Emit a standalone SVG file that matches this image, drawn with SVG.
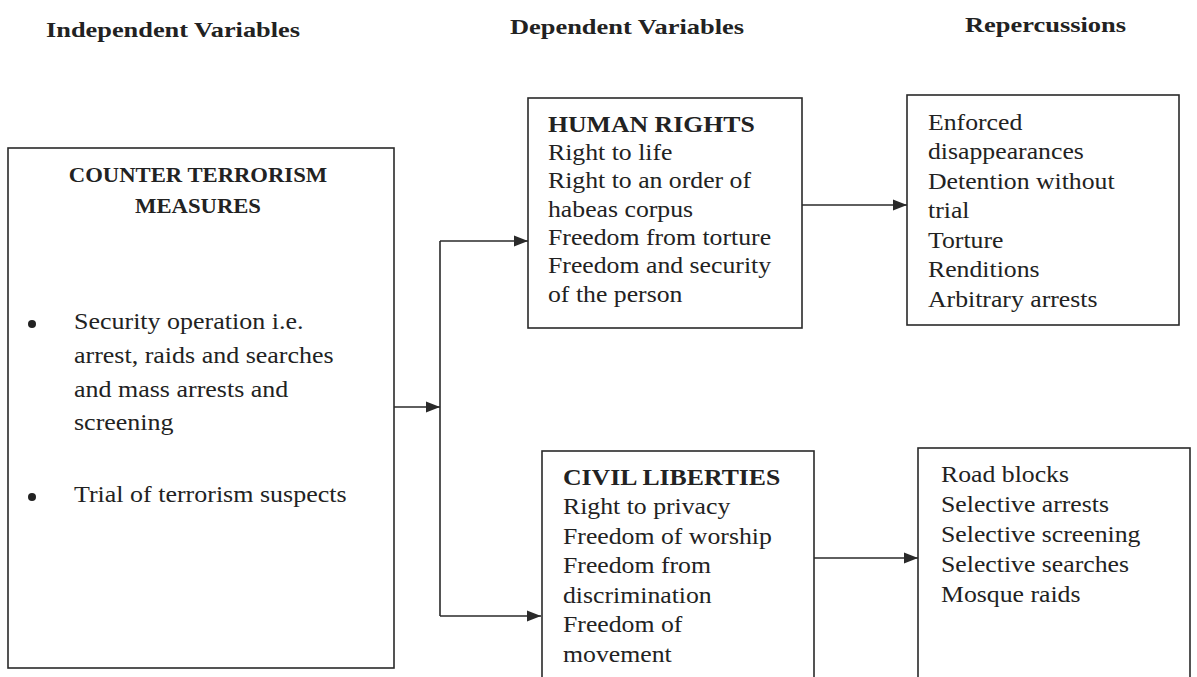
<svg xmlns="http://www.w3.org/2000/svg" width="1197" height="677" viewBox="0 0 1197 677">
<style>
.box{fill:none;stroke:#2a2a2a;stroke-width:1.6}
.con{fill:none;stroke:#2a2a2a;stroke-width:1.6}
.hd{font-family:"Liberation Serif",serif;font-weight:bold;font-size:22px;fill:#222}
.t{font-family:"Liberation Serif",serif;font-size:23px;fill:#222}
.b{font-family:"Liberation Serif",serif;font-weight:bold;font-size:23px;fill:#222}
.tb{font-family:"Liberation Serif",serif;font-weight:bold;font-size:21px;fill:#222}
</style>
<defs>
<marker id="ah" viewBox="0 0 14 12" refX="14" refY="6" markerWidth="14" markerHeight="12" orient="auto" markerUnits="userSpaceOnUse"><path d="M0,0.5 L14,6 L0,11.5 z" fill="#2a2a2a"/></marker>
</defs>
<rect width="1197" height="677" fill="#ffffff"/>
<g id="headers">
<text class="hd" x="46" y="37" textLength="254" lengthAdjust="spacingAndGlyphs">Independent Variables</text>
<text class="hd" x="510" y="34" textLength="234" lengthAdjust="spacingAndGlyphs">Dependent Variables</text>
<text class="hd" x="965" y="32" textLength="161" lengthAdjust="spacingAndGlyphs">Repercussions</text>
</g>
<g id="connectors">
<path class="con" d="M394,407 H440" marker-end="url(#ah)"/>
<path class="con" d="M440,241 V616"/>
<path class="con" d="M440,241 H528" marker-end="url(#ah)"/>
<path class="con" d="M440,616 H541" marker-end="url(#ah)"/>
<path class="con" d="M802,205 H907" marker-end="url(#ah)"/>
<path class="con" d="M814,558 H918" marker-end="url(#ah)"/>
</g>
<g id="counter-terrorism">
<rect class="box" x="8" y="148" width="386" height="520"/>
<g transform="translate(198,0) scale(1.08,1)">
<text class="tb" x="0" y="182" text-anchor="middle">COUNTER TERRORISM</text>
<text class="tb" x="0" y="213" text-anchor="middle">MEASURES</text>
</g>
<circle cx="32" cy="324" r="4" fill="#222"/>
<circle cx="32" cy="497" r="4" fill="#222"/>
<g transform="translate(74,0) scale(1.13,1)">
<text class="t" x="0" y="329">Security operation i.e.</text>
<text class="t" x="0" y="363">arrest, raids and searches</text>
<text class="t" x="0" y="397">and mass arrests and</text>
<text class="t" x="0" y="430">screening</text>
<text class="t" x="0" y="502">Trial of terrorism suspects</text>
</g>
</g>
<g id="human-rights">
<rect class="box" x="528" y="98" width="274" height="230"/>
<g transform="translate(548,0) scale(1.12,1)">
<text class="b" x="0" y="132">HUMAN RIGHTS</text>
<text class="t" x="0" y="160">Right to life</text>
<text class="t" x="0" y="188">Right to an order of</text>
<text class="t" x="0" y="217">habeas corpus</text>
<text class="t" x="0" y="245">Freedom from torture</text>
<text class="t" x="0" y="273">Freedom and security</text>
<text class="t" x="0" y="302">of the person</text>
</g>
</g>
<g id="civil-liberties">
<rect class="box" x="542" y="451" width="272" height="240"/>
<g transform="translate(563,0) scale(1.12,1)">
<text class="b" x="0" y="485">CIVIL LIBERTIES</text>
<text class="t" x="0" y="514">Right to privacy</text>
<text class="t" x="0" y="544">Freedom of worship</text>
<text class="t" x="0" y="573">Freedom from</text>
<text class="t" x="0" y="603">discrimination</text>
<text class="t" x="0" y="632">Freedom of</text>
<text class="t" x="0" y="662">movement</text>
</g>
</g>
<g id="hr-repercussions">
<rect class="box" x="907" y="95" width="272" height="230"/>
<g transform="translate(928,0) scale(1.12,1)">
<text class="t" x="0" y="130">Enforced</text>
<text class="t" x="0" y="159">disappearances</text>
<text class="t" x="0" y="189">Detention without</text>
<text class="t" x="0" y="218">trial</text>
<text class="t" x="0" y="248">Torture</text>
<text class="t" x="0" y="277">Renditions</text>
<text class="t" x="0" y="307">Arbitrary arrests</text>
</g>
</g>
<g id="cl-repercussions">
<rect class="box" x="918" y="448" width="272" height="243"/>
<g transform="translate(941,0) scale(1.12,1)">
<text class="t" x="0" y="482">Road blocks</text>
<text class="t" x="0" y="512">Selective arrests</text>
<text class="t" x="0" y="542">Selective screening</text>
<text class="t" x="0" y="572">Selective searches</text>
<text class="t" x="0" y="602">Mosque raids</text>
</g>
</g>
</svg>
